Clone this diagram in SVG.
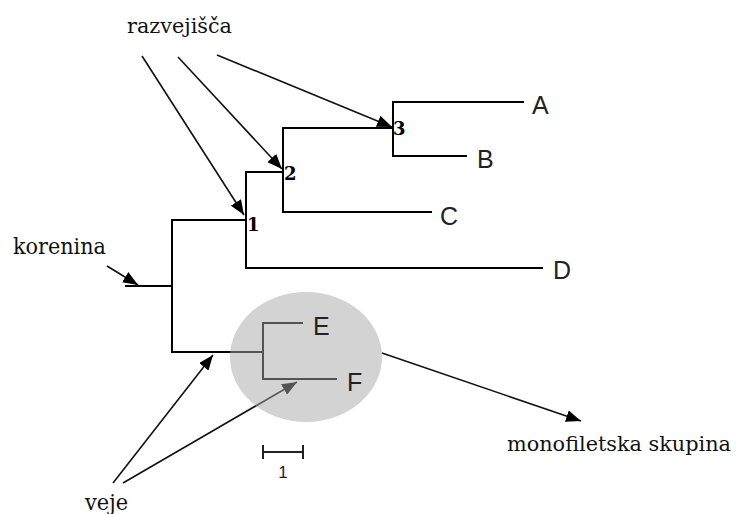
<svg xmlns="http://www.w3.org/2000/svg" width="740" height="514" viewBox="0 0 740 514">
<style>
.tree{fill:none;stroke:#000;stroke-width:2;stroke-linecap:square}
.arr{fill:none;stroke:#111;stroke-width:1.6;marker-end:url(#ah)}
.ser{font-family:"DejaVu Serif","Liberation Serif",serif;fill:#111}
.leaf{font-family:"Liberation Sans",Arial,sans-serif;font-size:25px;fill:#222}
.num{font-family:"DejaVu Serif","Liberation Serif",serif;font-weight:bold;font-size:18px;fill:#000}
</style>
<defs>
<marker id="ah" markerUnits="userSpaceOnUse" markerWidth="16" markerHeight="12" refX="15" refY="6" orient="auto">
<path d="M0,0 L15,6 L0,12 z" fill="#000"/>
</marker>
</defs>
<rect width="740" height="514" fill="#fff"/>
<g id="connectors">
<path class="tree" d="M126,286 H172 M172,220 V352 M172,220 H246 M246,172 V268 M246,268 H542 M246,172 H283 M283,128 V212 M283,212 H431 M283,128 H393 M393,102 V156 M393,102 H523 M393,156 H466"/>
<path class="tree" d="M172,352 H263 M263,323 V379 M263,323 H302 M263,379 H336"/>
<line class="arr" x1="142" y1="56" x2="244" y2="215"/>
<line class="arr" x1="178" y1="57" x2="282" y2="169"/>
<line class="arr" x1="217" y1="55" x2="392" y2="127"/>
<line class="arr" x1="107" y1="266" x2="138" y2="285"/>
<line class="arr" x1="113" y1="483" x2="213" y2="355"/>
<line class="arr" x1="123" y1="483" x2="297" y2="382"/>
<line class="arr" x1="382" y1="353" x2="581" y2="421"/>
</g>
<g id="monophyletic-group">
<ellipse cx="306" cy="357" rx="76" ry="65" fill="#a8a8a8" fill-opacity="0.5"/>
</g>
<g id="node-1"><text class="num" x="247" y="231">1</text></g>
<g id="node-2"><text class="num" x="284" y="180">2</text></g>
<g id="node-3"><text class="num" x="393" y="135">3</text></g>
<g id="leaf-A"><text class="leaf" x="532" y="114">A</text></g>
<g id="leaf-B"><text class="leaf" x="477" y="168">B</text></g>
<g id="leaf-C"><text class="leaf" x="440" y="225">C</text></g>
<g id="leaf-D"><text class="leaf" x="553" y="279">D</text></g>
<g id="leaf-E"><text class="leaf" x="313" y="335" fill="#444">E</text></g>
<g id="leaf-F"><text class="leaf" x="347" y="391" fill="#444">F</text></g>
<g id="scale-bar">
<path d="M263,452 H303 M263,445 V459 M303,445 V459" fill="none" stroke="#222" stroke-width="2"/>
<text x="283" y="478" text-anchor="middle" font-family="Liberation Sans,Arial,sans-serif" font-size="17" fill="#222">1</text>
</g>
<g id="label-razvejisca"><text class="ser" x="127" y="33" font-size="21" textLength="105" lengthAdjust="spacingAndGlyphs">razvejišča</text></g>
<g id="label-korenina"><text class="ser" x="13" y="254" font-size="22" textLength="93" lengthAdjust="spacingAndGlyphs">korenina</text></g>
<g id="label-veje"><text class="ser" x="85" y="510" font-size="22" textLength="43" lengthAdjust="spacingAndGlyphs">veje</text></g>
<g id="label-monofiletska"><text class="ser" x="507" y="451" font-size="20" textLength="224" lengthAdjust="spacingAndGlyphs">monofiletska skupina</text></g>
</svg>
